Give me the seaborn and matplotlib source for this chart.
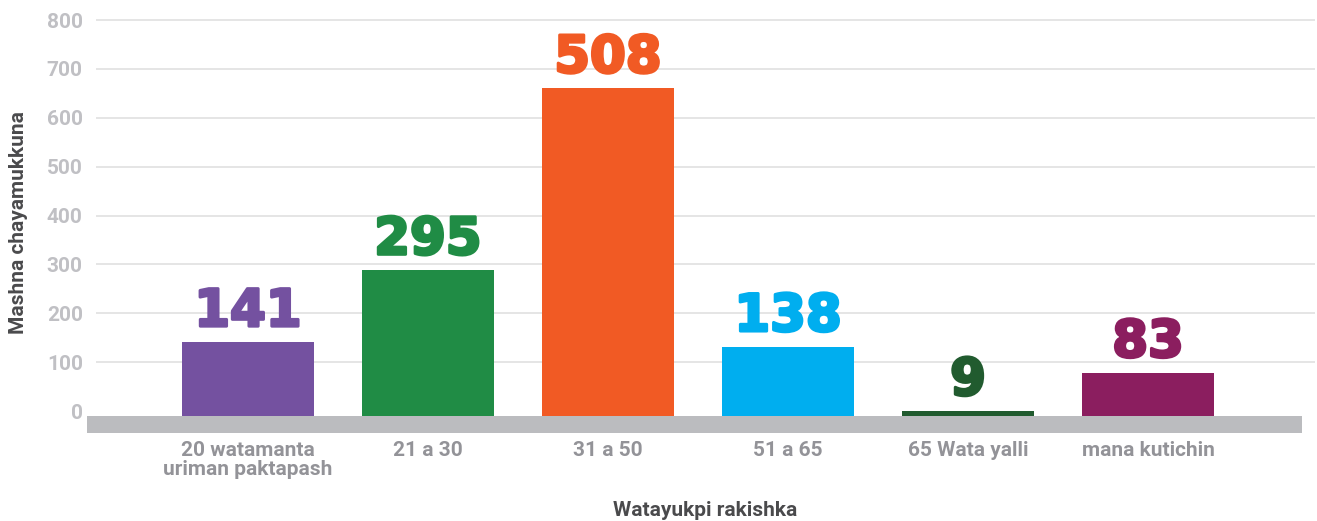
import seaborn as sns
import matplotlib.pyplot as plt
import matplotlib.patheffects as pe
import pandas as pd

# datos
grupos = ["20 watamanta\nuriman paktapash", "21 a 30", "31 a 50", "51 a 65", "65 Wata yalli", "mana kutichin"]
etiquetas = [141, 295, 508, 138, 9, 83]        # numeros escritos sobre las barras
alturas = [141, 288, 660, 131, 0, 78]          # altura dibujada de cada barra
colores = ["#7451a0", "#208c45", "#f15a24", "#00aeef", "#215b2f", "#8b1e5f"]
ticks_y = [0, 100, 200, 300, 400, 500, 600, 700, 800]

sns.set_theme(style="whitegrid")
plt.rcParams['font.family'] = ['Roboto', 'DejaVu Sans']

fig = plt.figure(figsize=(13.17, 5.21), dpi=100)
ax = fig.add_axes([0.0729, 0.1689, 0.9256, 0.8311])

df = pd.DataFrame({"grupo": grupos, "altura": alturas})
sns.barplot(data=df, x="grupo", y="altura", hue="grupo", palette=colores,
            saturation=1, width=0.733, legend=False, ax=ax, zorder=3,
            linewidth=0, edgecolor="none")

base = -10.2  # las barras nacen en el borde de la franja gris
for p, lab, col in zip(ax.patches, etiquetas, colores):
    top = p.get_height()
    p.set_y(base)
    p.set_height(top - base)
    ax.annotate(str(lab), (p.get_x() + p.get_width() / 2, top),
                xytext=(0, 11.5), textcoords="offset points",
                ha="center", va="baseline", fontsize=37, fontweight="bold",
                family="DejaVu Sans", color=col, zorder=4,
                path_effects=[pe.withStroke(linewidth=2.2, foreground=col)])

# franja gris del eje x
ax.fill_between([-0.894, 5.856], -45, base, color="#bbbcbf", lw=0,
                clip_on=False, zorder=2)

ax.set_xlim(-0.844, 5.928)
ax.set_ylim(-45, 841)
ax.set_yticks(ticks_y)
ax.grid(axis="x", visible=False)
ax.grid(axis="y", color="#e0e0e0", linewidth=1.2, zorder=0)
ax.get_ygridlines()[0].set_visible(False)
for s in ax.spines.values():
    s.set_visible(False)

ax.tick_params(axis="y", length=0, pad=9.5, labelsize=15, labelcolor="#c0c0c4")
ax.tick_params(axis="x", length=0, pad=6, labelsize=15, labelcolor="#939398")
for t in ax.get_yticklabels() + ax.get_xticklabels():
    t.set_fontweight("bold")
for t in ax.get_xticklabels():
    t.set_linespacing(1.0)

ax.set_ylabel("Mashna chayamukkuna", fontsize=15, fontweight="bold", color="#4a4a4c")
ax.set_xlabel("Watayukpi rakishka", fontsize=15, fontweight="bold", color="#4a4a4c")
ax.yaxis.set_label_coords(-0.056, 0.487)
ax.xaxis.set_label_coords(0.5, -0.158)
ax.xaxis.label.set_verticalalignment("top")

plt.savefig("out.png", dpi=100)
